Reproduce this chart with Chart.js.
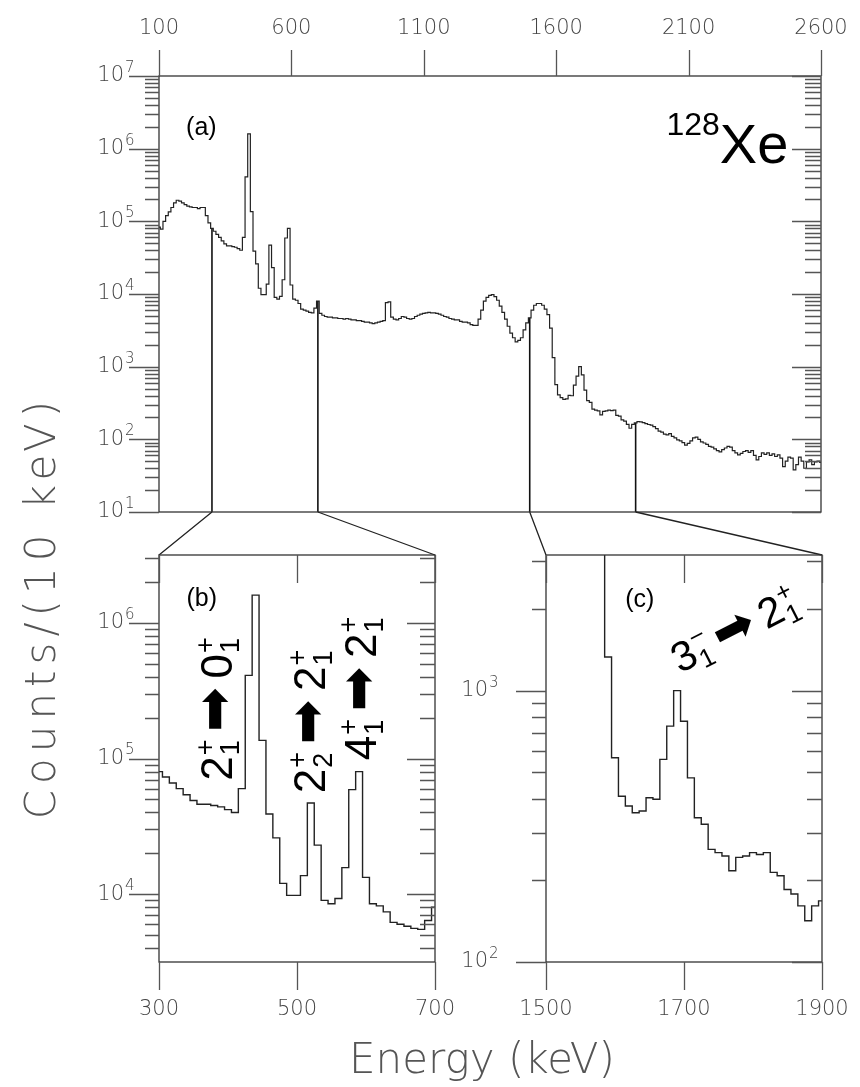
<!DOCTYPE html>
<html>
<head>
<meta charset="utf-8">
<script src="https://cdn.jsdelivr.net/npm/chart.js@4.4.0/dist/chart.umd.min.js"></script>
<style>
  html, body { margin: 0; padding: 0; background: #fff; }
  #wrap { position: relative; width: 860px; height: 1087px; }
  #wrap canvas { position: absolute; left: 0; top: 0; }
</style>
</head>
<body>
<div id="wrap">
  <canvas id="chartA" width="860" height="1087"></canvas>
  <canvas id="chartB" width="860" height="1087"></canvas>
  <canvas id="chartC" width="860" height="1087"></canvas>
</div>
<script>
// counts per 10 keV bin (bins centred on the energy)
const binWidth = 10;

const lowStart = 100; // 100 .. 290 keV
const lowCounts = [83000, 78000, 100000, 120000, 135000, 155000, 180000, 195000, 190000, 180000,
  170000, 162000, 158000, 155000, 155000, 150000, 155000, 155000, 120000, 95000];

const zoomBStart = 300; // 300 .. 700 keV, panel (b)
const zoomBCounts = [80000, 73000, 66000, 60000, 54000, 49000, 46000, 46000, 45000, 44000,
  42000, 40000, 60000, 410000, 1600000, 136000, 39000, 26000, 12000, 9800,
  9800, 13700, 47000, 23000, 9000, 8500, 9300, 15700, 59000, 80000,
  13300, 8500, 8200, 7400, 6200, 6000, 5800, 5600, 5500, 6400, 8000];

const midStart = 710; // 710 .. 1490 keV
const midCounts = [5400, 5100, 4900, 4800, 4800, 4700, 4700, 4600, 4600, 4500,
  4600, 4500, 4400, 4400, 4300, 4300, 4200, 4100, 4100, 4000,
  3900, 4000, 4100, 4200, 4300, 7600, 7800, 4800, 4500, 4400,
  4600, 4900, 4800, 4600, 4500, 4600, 4900, 5100, 5300, 5400,
  5500, 5600, 5500, 5500, 5400, 5300, 5100, 4900, 4800, 4600,
  4500, 4400, 4400, 4200, 4100, 4100, 4000, 3800, 3700, 3700,
  4500, 6000, 8000, 9000, 9600, 9800, 9200, 8200, 6800, 5600,
  4500, 3600, 2900, 2500, 2200, 2300, 2500, 3200, 4000];

const zoomCStart = 1500; // 1500 .. 1900 keV, panel (c)
const zoomCCounts = [4700, 6000, 7000, 7400, 7400, 7000, 6200, 5200, 3400, 1330,
  566, 408, 376, 355, 360, 403, 398, 558, 740, 1000,
  771, 477, 340, 322, 260, 253, 246, 217, 243, 246,
  253, 249, 253, 214, 208, 185, 178, 161, 142, 161, 168];

const highStart = 1910; // 1910 .. 2600 keV
const highCounts = [175, 174, 170, 165, 160, 157, 150, 140, 130, 126,
  118, 115, 120, 110, 105, 98, 95, 90, 83, 88,
  95, 105, 107, 100, 92, 89, 85, 80, 78, 74,
  70, 67, 72, 76, 80, 78, 70, 65, 61, 64,
  68, 70, 66, 70, 60, 52, 58, 65, 62, 65,
  60, 63, 58, 61, 55, 42, 50, 57, 55, 38,
  45, 57, 50, 40, 49, 52, 45, 49, 50, 48];

const ticksA = [100, 600, 1100, 1600, 2100, 2600];
const ticksB = [300, 500, 700];
const ticksC = [1500, 1700, 1900];
const cutEnergies = [300, 700, 1500, 1900];

const toPoints = (start, counts) => counts.map((c, i) => ({ x: start + binWidth * i, y: c }));
const spectrumA = [
  ...toPoints(lowStart, lowCounts), ...toPoints(zoomBStart, zoomBCounts),
  ...toPoints(midStart, midCounts), ...toPoints(zoomCStart, zoomCCounts),
  ...toPoints(highStart, highCounts)
];
const countAt = e => spectrumA.find(p => p.x === e).y;

const decades = (lo, hi) => {
  const out = [];
  for (let d = Math.ceil(Math.log10(lo) - 1e-9); d <= Math.floor(Math.log10(hi) + 1e-9); d++) out.push(Math.pow(10, d));
  return out;
};

const tickFont = { family: '"DejaVu Sans", sans-serif', size: 21, weight: 200 };
const tickColor = '#444';
const lineColor = '#222';

// box around each panel, log / linear tick marks (positive length = outside)
// and the exponents of the 10^n labels
const frameTicks = {
  id: 'frameTicks',
  afterDraw(chart, args, o) {
    const { ctx, chartArea: a, scales: { x, y } } = chart;
    ctx.save();
    ctx.strokeStyle = '#333';
    ctx.lineWidth = 1.3;
    ctx.strokeRect(a.left, a.top, a.right - a.left, a.bottom - a.top);
    ctx.strokeStyle = '#555';
    ctx.beginPath();
    const lo = Math.floor(Math.log10(y.min)), hi = Math.ceil(Math.log10(y.max));
    for (let d = lo; d <= hi; d++) {
      for (let k = 1; k <= 9; k++) {
        const v = k * Math.pow(10, d);
        if (v < y.min * 0.999 || v > y.max * 1.001) continue;
        const p = Math.round(y.getPixelForValue(v)) + 0.5;
        const i = k === 1 ? 0 : 1;
        ctx.moveTo(a.left, p); ctx.lineTo(a.left - o.left[i], p);
        ctx.moveTo(a.right, p); ctx.lineTo(a.right + o.right[i], p);
      }
    }
    x.ticks.forEach(t => {
      const p = Math.round(x.getPixelForValue(t.value)) + 0.5;
      if (o.top) { ctx.moveTo(p, a.top); ctx.lineTo(p, a.top - o.top); }
      if (o.bottom) { ctx.moveTo(p, a.bottom); ctx.lineTo(p, a.bottom + o.bottom); }
    });
    ctx.stroke();
    ctx.fillStyle = tickColor;
    ctx.font = '200 15px "DejaVu Sans", sans-serif';
    ctx.textAlign = 'left';
    ctx.textBaseline = 'middle';
    const ex = a.left - y.options.ticks.padding + 1;
    y.ticks.forEach(t => {
      ctx.fillText(String(Math.round(Math.log10(t.value))), ex, y.getPixelForValue(t.value) - 8);
    });
    ctx.restore();
  }
};

function panelOptions(cfg) {
  return {
    responsive: false,
    animation: false,
    events: [],
    layout: { padding: cfg.padding },
    plugins: { legend: { display: false }, tooltip: { enabled: false }, frameTicks: cfg.marks },
    elements: { point: { radius: 0 } },
    scales: {
      x: {
        type: 'linear', position: cfg.xPos,
        min: cfg.xTicks[0], max: cfg.xTicks[cfg.xTicks.length - 1],
        grid: { display: false, drawTicks: false }, border: { display: false },
        afterBuildTicks: s => { s.ticks = cfg.xTicks.map(v => ({ value: v })); },
        afterFit: s => { s.height = cfg.xHeight; s.paddingLeft = 0; s.paddingRight = 0; },
        ticks: { autoSkip: false, maxRotation: 0, padding: 35, font: tickFont, color: tickColor, callback: v => String(v) }
      },
      y: {
        type: 'logarithmic', position: 'left', min: cfg.yMin, max: cfg.yMax,
        grid: { display: false, drawTicks: false }, border: { display: false },
        afterBuildTicks: s => { s.ticks = decades(cfg.yMin, cfg.yMax).map(v => ({ value: v })); },
        afterFit: s => { s.width = cfg.yWidth; s.paddingTop = 0; s.paddingBottom = 0; },
        ticks: { padding: cfg.yPad, font: tickFont, color: tickColor, callback: () => '10' }
      }
    }
  };
}

function spectrumSet(points, width) {
  return { data: points, stepped: 'middle', borderColor: lineColor, borderWidth: width, fill: false };
}

// text with stacked super/subscripts, e.g. 2(+,1) -> 0(+,1)
function drawTransition(ctx, cx, cy, angle, parts, size) {
  const big = size + 'px "Liberation Sans", Arial, sans-serif';
  const small = Math.round(size * 0.62) + 'px "Liberation Sans", Arial, sans-serif';
  const arrowFont = Math.round(size * 1.2) + 'px "DejaVu Sans", sans-serif';
  const gap = size * 0.2;
  const pieces = parts.map(p => {
    if (typeof p === 'string') { ctx.font = arrowFont; return { p, w: ctx.measureText(p).width + gap * 2 }; }
    ctx.font = big; const bw = ctx.measureText(p[0]).width;
    ctx.font = small; const sw = Math.max(ctx.measureText(p[1]).width, ctx.measureText(p[2]).width);
    return { p, bw, w: bw + sw };
  });
  const total = pieces.reduce((s, q) => s + q.w, 0);
  const base = size * 0.36;
  ctx.save();
  ctx.translate(cx, cy);
  ctx.rotate(angle);
  ctx.fillStyle = '#000';
  ctx.textAlign = 'left';
  ctx.textBaseline = 'alphabetic';
  let px = -total / 2;
  pieces.forEach(q => {
    if (typeof q.p === 'string') {
      ctx.font = arrowFont;
      ctx.fillText(q.p, px + gap, base);
    } else {
      ctx.font = big;
      ctx.fillText(q.p[0], px, base);
      ctx.font = small;
      ctx.fillText(q.p[1], px + q.bw + 1, base - size * 0.42);
      ctx.fillText(q.p[2], px + q.bw + 1, base + size * 0.16);
    }
    px += q.w;
  });
  ctx.restore();
}

const chartB = new Chart(document.getElementById('chartB'), {
  type: 'line',
  data: { datasets: [spectrumSet(toPoints(zoomBStart, zoomBCounts), 1.4)] },
  options: panelOptions({
    padding: { top: 555, right: 425, left: 0, bottom: 0 },
    xPos: 'bottom', xTicks: ticksB, xHeight: 125,
    yMin: Math.pow(10, 3.5), yMax: Math.pow(10, 6.5), yWidth: 159, yPad: 35,
    marks: { left: [30, 14], right: [-28, -15], top: -28, bottom: 28 }
  }),
  plugins: [frameTicks, {
    id: 'notesB',
    afterDraw(chart) {
      const { ctx, scales: { x, y } } = chart;
      ctx.save();
      ctx.fillStyle = '#000';
      ctx.font = '25px "Liberation Sans", Arial, sans-serif';
      ctx.textAlign = 'center';
      ctx.textBaseline = 'middle';
      ctx.fillText('(b)', x.getPixelForValue(362), y.getPixelForValue(1.5e6));
      ctx.restore();
      const up = -Math.PI / 2;
      drawTransition(ctx, x.getPixelForValue(383), y.getPixelForValue(2.3e5), up, [['2', '+', '1'], '➡', ['0', '+', '1']], 44);
      drawTransition(ctx, x.getPixelForValue(517), y.getPixelForValue(1.86e5), up, [['2', '+', '2'], '➡', ['2', '+', '1']], 44);
      drawTransition(ctx, x.getPixelForValue(591), y.getPixelForValue(3.25e5), up, [['4', '+', '1'], '➡', ['2', '+', '1']], 44);
      // shared axis titles
      ctx.save();
      ctx.fillStyle = '#555';
      ctx.font = '200 42px "DejaVu Sans", sans-serif';
      ctx.textAlign = 'center';
      ctx.textBaseline = 'middle';
      ctx.fillText('Energy (keV)', 482, 1062);
      ctx.translate(44, 610);
      ctx.rotate(-Math.PI / 2);
      ctx.letterSpacing = '6px';
      ctx.fillText('Counts/(10 keV)', 3, 0);
      ctx.restore();
    }
  }]
});

const chartC = new Chart(document.getElementById('chartC'), {
  type: 'line',
  data: { datasets: [spectrumSet(toPoints(zoomCStart, zoomCCounts), 1.4)] },
  options: panelOptions({
    padding: { top: 555, right: 38, left: 0, bottom: 0 },
    xPos: 'bottom', xTicks: ticksC, xHeight: 125,
    yMin: 100, yMax: Math.pow(10, 3.5), yWidth: 546, yPad: 58,
    marks: { left: [30, 14], right: [-30, -15], top: -28, bottom: 28 }
  }),
  plugins: [frameTicks, {
    id: 'notesC',
    afterDraw(chart) {
      const { ctx, scales: { x, y } } = chart;
      ctx.save();
      ctx.fillStyle = '#000';
      ctx.font = '25px "Liberation Sans", Arial, sans-serif';
      ctx.textAlign = 'center';
      ctx.textBaseline = 'middle';
      ctx.fillText('(c)', x.getPixelForValue(1636), y.getPixelForValue(2160));
      ctx.restore();
      drawTransition(ctx, x.getPixelForValue(1772), y.getPixelForValue(1680), -27 * Math.PI / 180, [['3', '−', '1'], '➡', ['2', '+', '1']], 42);
    }
  }]
});

const dropSets = cutEnergies.map(e => ({
  data: [{ x: e, y: 10 }, { x: e, y: countAt(e) }],
  borderColor: '#111', borderWidth: 1.6, fill: false
}));

new Chart(document.getElementById('chartA'), {
  type: 'line',
  data: { datasets: [spectrumSet(spectrumA, 1.2), ...dropSets] },
  options: panelOptions({
    padding: { top: 0, right: 39, left: 0, bottom: 575 },
    xPos: 'top', xTicks: ticksA, xHeight: 76,
    yMin: 10, yMax: 1e7, yWidth: 159, yPad: 35,
    marks: { left: [30, 14], right: [-29, -16], top: 26, bottom: 0 }
  }),
  plugins: [frameTicks, {
    id: 'notesA',
    afterDraw(chart) {
      const { ctx, chartArea: a, scales: { x, y } } = chart;
      // guides from the cut energies down to the zoomed panels
      const b = chartB.chartArea, c = chartC.chartArea;
      const ends = [[b.left, b.top], [b.right, b.top], [c.left, c.top], [c.right, c.top]];
      ctx.save();
      ctx.strokeStyle = '#222';
      ctx.lineWidth = 1.3;
      ctx.beginPath();
      cutEnergies.forEach((e, i) => {
        ctx.moveTo(x.getPixelForValue(e), a.bottom);
        ctx.lineTo(ends[i][0], ends[i][1]);
      });
      ctx.stroke();
      ctx.fillStyle = '#000';
      ctx.font = '25px "Liberation Sans", Arial, sans-serif';
      ctx.textAlign = 'center';
      ctx.textBaseline = 'middle';
      ctx.fillText('(a)', x.getPixelForValue(260), y.getPixelForValue(1.9e6));
      const xe = x.getPixelForValue(2218), base = y.getPixelForValue(6.3e5);
      ctx.textBaseline = 'alphabetic';
      ctx.textAlign = 'left';
      ctx.font = '56px "Liberation Sans", Arial, sans-serif';
      ctx.fillText('Xe', xe, base);
      ctx.textAlign = 'right';
      ctx.font = '32px "Liberation Sans", Arial, sans-serif';
      ctx.fillText('128', xe, base - 28);
      ctx.restore();
    }
  }]
});
</script>
</body>
</html>
